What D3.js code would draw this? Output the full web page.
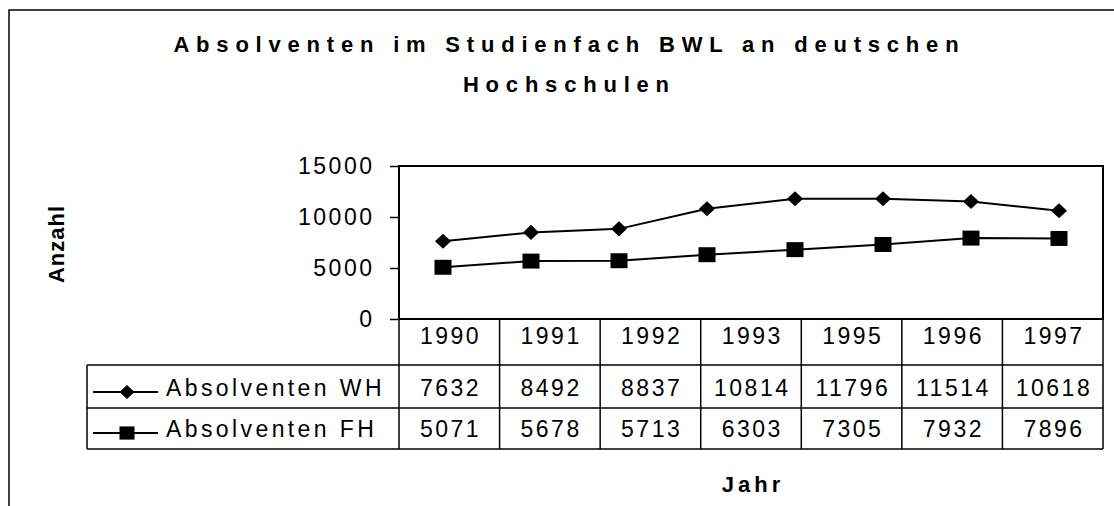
<!DOCTYPE html>
<html>
<head>
<meta charset="utf-8">
<script src="https://cdn.jsdelivr.net/npm/d3@7"></script>
<style>
    body { margin: 0; background: #fff; }
    svg { font-family: "Liberation Sans", Arial, sans-serif; }
</style>
</head>
<body>
<div class="chart"></div>
<script>
// Plotted years (the line also has a 1994 point, the table below does not)
const years = [1990, 1991, 1992, 1993, 1994, 1995, 1996, 1997]
const wh = [7632, 8492, 8837, 10814, 11780, 11796, 11514, 10618]
const fh = [5071, 5678, 5713, 6303, 6800, 7305, 7932, 7896]

// Data table under the chart
const tableYears = [1990, 1991, 1992, 1993, 1995, 1996, 1997]
const tableWh = [7632, 8492, 8837, 10814, 11796, 11514, 10618]
const tableFh = [5071, 5678, 5713, 6303, 7305, 7932, 7896]

const yTicks = [0, 5000, 10000, 15000]
const seriesNames = ['Absolventen WH', 'Absolventen FH']
const titleLines = ['Absolventen im Studienfach BWL an deutschen', 'Hochschulen']

// Dimensions
const width = 1114,
    height = 506
const plot = { left: 399, right: 1103, top: 166, bottom: 319 }
const rows = [319, 365, 408, 449]
const legendLeft = 87

const svg = d3.select('.chart')
    .append('svg')
    .attr('width', width)
    .attr('height', height)

// Scales
const x = d3.scalePoint()
    .domain(years)
    .range([plot.left, plot.right])
    .padding(0.5)

const col = d3.scaleBand()
    .domain(tableYears)
    .range([plot.left, plot.right])

const y = d3.scaleLinear()
    .domain([0, 15000])
    .range([plot.bottom, plot.top])

// Outer frame (only left and top visible)
svg.append('path')
    .attr('d', `M 9 ${height} V 10 H ${width}`)
    .attr('fill', 'none')
    .attr('stroke', '#000')
    .attr('stroke-width', 1.5)

// Title
svg.append('g')
    .selectAll('text')
    .data(titleLines)
    .join('text')
    .attr('x', 566)
    .attr('y', (d, i) => 52 + i * 40)
    .attr('dx', 3.4)
    .attr('text-anchor', 'middle')
    .style('font-size', '22px')
    .style('font-weight', 'bold')
    .style('letter-spacing', '6.8px')
    .text(d => d)

// Y axis
const yAxis = svg.append('g')
    .attr('transform', `translate(${plot.left}, 0)`)
    .call(d3.axisLeft(y).tickValues(yTicks).tickFormat(d3.format('d')).tickSize(9).tickPadding(18))
yAxis.select('.domain').remove()
yAxis.selectAll('line').attr('stroke-width', 1.5)
yAxis.selectAll('text')
    .attr('dx', 2.5)
    .style('font-size', '23px')
    .style('font-family', '"Liberation Sans", Arial, sans-serif')
    .style('letter-spacing', '2.5px')
    .attr('fill', '#000')

// Y title
svg.append('text')
    .attr('transform', 'translate(64, 244) rotate(-90)')
    .attr('text-anchor', 'middle')
    .style('font-size', '22px')
    .style('font-weight', 'bold')
    .style('letter-spacing', '1px')
    .text('Anzahl')

// Plot frame
svg.append('rect')
    .attr('x', plot.left)
    .attr('y', plot.top)
    .attr('width', plot.right - plot.left)
    .attr('height', plot.bottom - plot.top)
    .attr('fill', 'none')
    .attr('stroke', '#000')
    .attr('stroke-width', 2)

// Markers
const diamond = (g, s) => g.append('path')
    .attr('d', `M0,${-s * 0.47} L${s / 2},0 L0,${s * 0.47} L${-s / 2},0 Z`)
    .attr('fill', '#000')
const square = (g, s) => g.append('rect')
    .attr('x', -s / 2)
    .attr('y', -s * 0.44)
    .attr('width', s)
    .attr('height', s * 0.88)
    .attr('fill', '#000')

const series = [
    { values: wh, marker: diamond, size: 16 },
    { values: fh, marker: square, size: 17 }
]

const line = d3.line()
    .x((d, i) => x(years[i]))
    .y(d => y(d))

series.forEach(s => {
    svg.append('path')
        .attr('d', line(s.values))
        .attr('fill', 'none')
        .attr('stroke', '#000')
        .attr('stroke-width', 2)

    svg.append('g')
        .selectAll('g')
        .data(s.values)
        .join('g')
        .attr('transform', (d, i) => `translate(${x(years[i])}, ${y(d)})`)
        .each(function () { s.marker(d3.select(this), s.size) })
})

// Data table
const table = svg.append('g')
    .attr('stroke', '#000')
    .attr('stroke-width', 1.5)

rows.slice(1).forEach(r => {
    table.append('line')
        .attr('x1', legendLeft).attr('x2', plot.right)
        .attr('y1', r).attr('y2', r)
})
table.append('line')
    .attr('x1', legendLeft).attr('x2', legendLeft)
    .attr('y1', rows[1]).attr('y2', rows[3])
table.selectAll('.vline')
    .data(tableYears.map(d => col(d)).concat([plot.right]))
    .join('line')
    .attr('class', 'vline')
    .attr('x1', d => d).attr('x2', d => d)
    .attr('y1', rows[0]).attr('y2', rows[3])

const cellText = (values, baseline) => {
    svg.append('g')
        .selectAll('text')
        .data(values)
        .join('text')
        .attr('x', (d, i) => col(tableYears[i]) + col.bandwidth() / 2)
        .attr('y', baseline)
        .attr('dx', 1.25)
        .attr('text-anchor', 'middle')
        .style('font-size', '23px')
        .style('letter-spacing', '2.5px')
        .text(d => d)
}
cellText(tableYears, 344)
cellText(tableWh, 396)
cellText(tableFh, 437)

// Legend keys inside the table
const legendRows = [
    { name: seriesNames[0], marker: diamond, size: 15, base: 396 },
    { name: seriesNames[1], marker: square, size: 15, base: 437 }
]
legendRows.forEach(l => {
    const cy = l.base - 4
    svg.append('line')
        .attr('x1', 93).attr('x2', 158)
        .attr('y1', cy).attr('y2', cy)
        .attr('stroke', '#000')
        .attr('stroke-width', 2)
    const g = svg.append('g').attr('transform', `translate(127, ${cy})`)
    l.marker(g, l.size)
    svg.append('text')
        .attr('x', 166)
        .attr('y', l.base)
        .style('font-size', '23px')
        .style('letter-spacing', '3.4px')
        .text(l.name)
})

// X title
svg.append('text')
    .attr('x', (plot.left + plot.right) / 2)
    .attr('y', 492)
    .attr('dx', 2)
    .attr('text-anchor', 'middle')
    .style('font-size', '22px')
    .style('font-weight', 'bold')
    .style('letter-spacing', '4px')
    .text('Jahr')
</script>
</body>
</html>
